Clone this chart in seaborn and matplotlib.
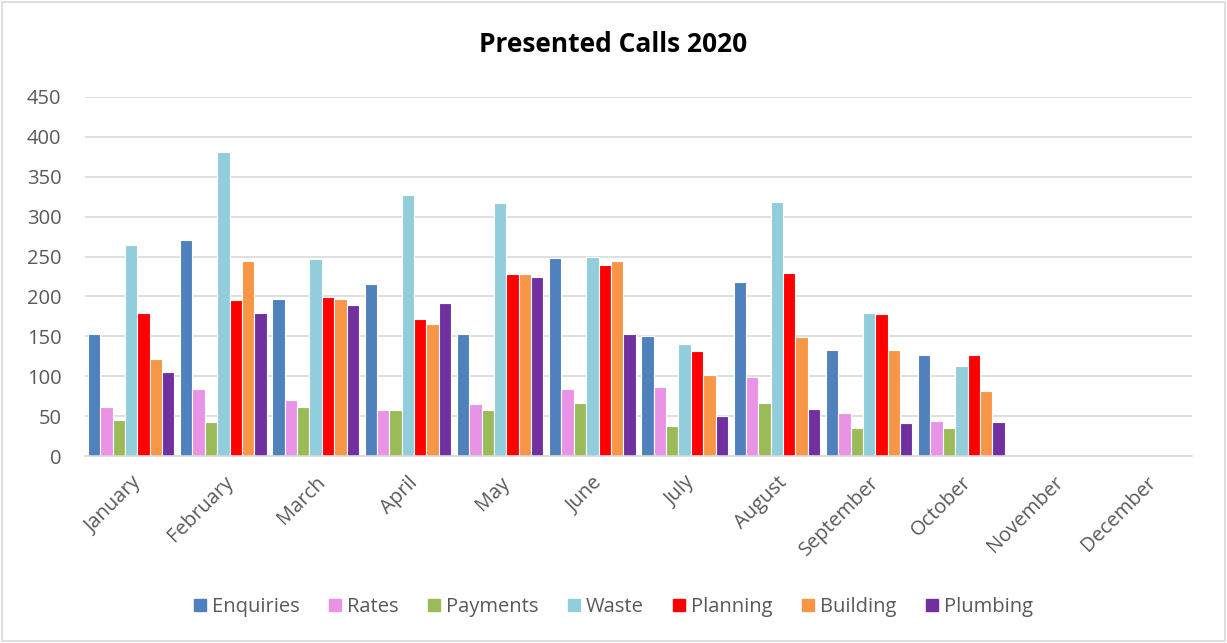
import pandas as pd
import matplotlib
matplotlib.use("Agg")
import matplotlib.pyplot as plt
from matplotlib.patches import Rectangle
import seaborn as sns

# data (Nov / Dec have no calls yet)
months = ["January", "February", "March", "April", "May", "June", "July",
          "August", "September", "October", "November", "December"]
enquiries = [153, 271, 197, 216, 153, 248, 150, 218, 133, 127, 0, 0]
rates = [61, 84, 70, 58, 65, 84, 86, 99, 54, 44, 0, 0]
payments = [45, 42, 62, 58, 58, 67, 37, 66, 35, 35, 0, 0]
waste = [264, 381, 247, 327, 317, 249, 141, 319, 179, 113, 0, 0]
planning = [179, 196, 199, 172, 228, 239, 132, 229, 178, 127, 0, 0]
building = [121, 244, 197, 165, 228, 245, 101, 149, 133, 82, 0, 0]
plumbing = [105, 179, 189, 192, 225, 153, 50, 59, 41, 43, 0, 0]

series = {"Enquiries": enquiries, "Rates": rates, "Payments": payments,
          "Waste": waste, "Planning": planning, "Building": building,
          "Plumbing": plumbing}
colors = ["#4F81BD", "#E993E6", "#9BBB59", "#92CDDC", "#FF0000", "#F79646", "#7030A0"]

rows = []
for name, vals in series.items():
    for m, v in zip(months, vals):
        rows.append({"Month": m, "Type": name, "Calls": v})
df = pd.DataFrame(rows)

sns.set_style("white")
plt.rcParams["font.family"] = ["Open Sans", "DejaVu Sans"]

fig = plt.figure(figsize=(12.27, 6.43), dpi=100)
ax = fig.add_axes([85 / 1227, 1 - 456 / 643, (1192 - 85) / 1227, (456 - 97) / 643])

sns.barplot(data=df, x="Month", y="Calls", hue="Type", order=months,
            hue_order=list(series.keys()), palette=colors, width=0.94,
            edgecolor="white", linewidth=0.8, saturation=1, ax=ax)

ax.set_ylim(0, 450)
ax.set_xlim(-0.5, 11.5)
ax.set_yticks(range(0, 451, 50))
ax.yaxis.grid(True, color="#d9d9d9", linewidth=1.2)
ax.set_axisbelow(True)
for s in ["top", "right", "left"]:
    ax.spines[s].set_visible(False)
ax.spines["bottom"].set_color("#d9d9d9")
ax.spines["bottom"].set_linewidth(1.2)
ax.tick_params(axis="both", length=0, labelsize=14.5, colors="#595959")
ax.tick_params(axis="y", pad=17)
ax.tick_params(axis="x", pad=12)
ax.set_xlabel("")
ax.set_ylabel("")

for lbl in ax.get_xticklabels():
    lbl.set_rotation(45)
    lbl.set_ha("right")
    lbl.set_rotation_mode("anchor")

fig.text(0.5, 1 - 45 / 643, "Presented Calls 2020", ha="center", va="center",
         fontsize=19, fontweight="bold", color="black")

ax.legend_.remove()
handles = [Rectangle((0, 0), 1, 1, color=c) for c in colors]
fig.legend(handles, list(series.keys()), loc="center", ncol=7,
           bbox_to_anchor=(0.5, 1 - 607 / 643), frameon=False, fontsize=14.5,
           handlelength=0.6, handleheight=0.6, handletextpad=0.3,
           columnspacing=1.45, labelcolor="#595959")

fig.patches.append(Rectangle((0.002, 0.003), 0.996, 0.994, transform=fig.transFigure,
                             fill=False, edgecolor="#d9d9d9", linewidth=1.2))

fig.savefig("out.png", dpi=100)
